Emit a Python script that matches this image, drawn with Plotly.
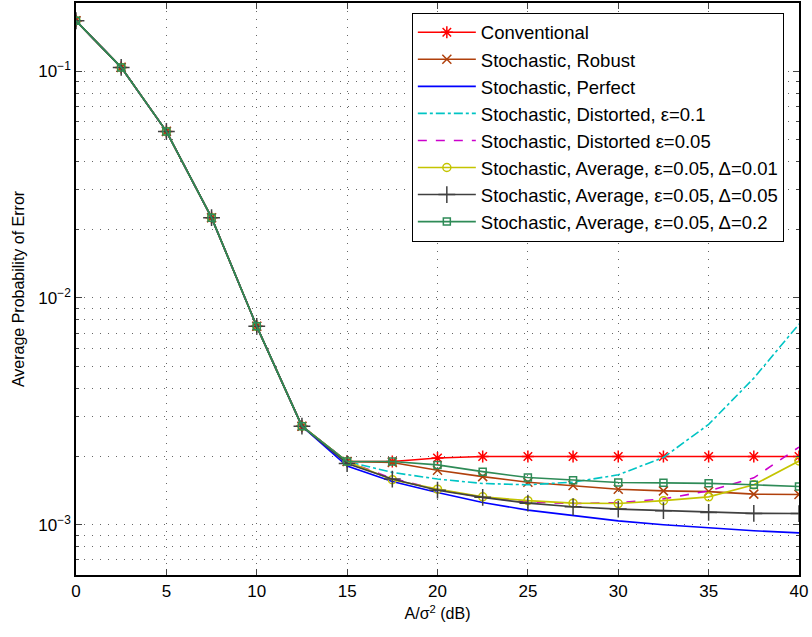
import plotly.graph_objects as go

snr_db = [0, 2.5, 5, 7.5, 10, 12.5, 15, 17.5, 20, 22.5, 25, 27.5, 30, 32.5, 35, 37.5, 40]
head = [0.167, 0.104, 0.0543, 0.0226, 0.0075, 0.00272]

conventional = head + [0.0019, 0.0019, 0.00197, 0.002, 0.002, 0.002, 0.002, 0.002, 0.002, 0.002, 0.002]
robust = head + [0.0019, 0.00188, 0.00174, 0.00163, 0.00154, 0.00149, 0.001434, 0.00141, 0.0014, 0.001364, 0.00136]
perfect = head + [0.001815, 0.00155, 0.001387, 0.001253, 0.00116, 0.0011, 0.00104, 0.001, 0.000967, 0.000941, 0.00092]
distorted_01 = head + [0.0019, 0.0017, 0.00159, 0.00152, 0.0015, 0.00154, 0.00166, 0.00198, 0.00277, 0.00443, 0.00767]
distorted_005 = head + [0.0019, 0.0016, 0.00143, 0.00132, 0.00126, 0.00124, 0.00125, 0.0013, 0.00141, 0.00161, 0.0022]
avg_001 = head + [0.0019, 0.00158, 0.001435, 0.001327, 0.001277, 0.001245, 0.00124, 0.001277, 0.001327, 0.0015, 0.00191]
avg_005 = head + [0.00186, 0.00159, 0.00142, 0.00132, 0.001245, 0.0012, 0.001172, 0.001153, 0.001133, 0.001122, 0.00112]
avg_02 = head + [0.0019, 0.0019, 0.001836, 0.001714, 0.001614, 0.00157, 0.001535, 0.00153, 0.001522, 0.0015, 0.001473]

x_ticks = [0, 5, 10, 15, 20, 25, 30, 35, 40]
y_ticks = [1e-3, 1e-2, 1e-1]
y_ticktext = ["10<sup>\u22123</sup>", "10<sup>\u22122</sup>", "10<sup>\u22121</sup>"]

series = [
    ("Conventional", conventional, "#ff0000", "solid", "asterisk-open", 10, "lines+markers"),
    ("Stochastic, Robust", robust, "#b0400c", "solid", "x-thin-open", 9, "lines+markers"),
    ("Stochastic, Perfect", perfect, "#0000ff", "solid", "circle", 1, "lines"),
    ("Stochastic, Distorted, \u03b5=0.1", distorted_01, "#00c4c4", "dashdot", "circle", 1, "lines"),
    ("Stochastic, Distorted \u03b5=0.05", distorted_005, "#cc00cc", "dash", "circle", 1, "lines"),
    ("Stochastic, Average, \u03b5=0.05, \u0394=0.01", avg_001, "#c4c400", "solid", "circle-open", 8, "lines+markers"),
    ("Stochastic, Average, \u03b5=0.05, \u0394=0.05", avg_005, "#404040", "solid", "cross-thin-open", 12, "lines+markers"),
    ("Stochastic, Average, \u03b5=0.05, \u0394=0.2", avg_02, "#2e8b57", "solid", "square-open", 7, "lines+markers"),
]

fig = go.Figure()
for name, ys, color, dash, sym, size, mode in series:
    fig.add_trace(go.Scatter(
        x=snr_db, y=ys, name=name, mode=mode,
        line=dict(color=color, width=1.6, dash=dash),
        marker=dict(symbol=sym, size=size, color=color, line=dict(color=color, width=1.5)),
    ))

gcol = "#666666"
gdash = "1px,7px"
fig.update_layout(
    width=812, height=637,
    margin=dict(l=76, r=13, t=1, b=62),
    paper_bgcolor="white", plot_bgcolor="white",
    font=dict(family="Liberation Sans, Arial, sans-serif", size=16, color="black"),
    legend=dict(
        x=0.4645, y=0.983, xanchor="left", yanchor="top",
        bgcolor="white", bordercolor="black", borderwidth=1,
        font=dict(size=18.5), tracegroupgap=0, itemwidth=58,
    ),
    xaxis=dict(
        range=[0, 40], tickvals=x_ticks, ticks="inside", ticklen=6,
        showline=True, linecolor="black", linewidth=1.5, mirror="ticks",
        zeroline=False, title=dict(text="A/\u03c3<sup>2</sup> (dB)", font=dict(size=16), standoff=8),
        tickfont=dict(size=17),
        showgrid=True, gridcolor=gcol, griddash=gdash, gridwidth=1,
    ),
    yaxis=dict(
        type="log", range=[-3.2218, -0.699], tickvals=y_ticks, ticktext=y_ticktext,
        ticks="inside", ticklen=6, showline=True, linecolor="black", linewidth=1.5, mirror="ticks",
        zeroline=False, title=dict(text="Average Probability of Error", font=dict(size=16), standoff=10),
        tickfont=dict(size=17),
        showgrid=True, gridcolor=gcol, griddash=gdash, gridwidth=1,
        minor=dict(dtick="D1", ticks="inside", ticklen=3, showgrid=True, gridcolor=gcol, griddash=gdash),
    ),
)
fig.write_html("out.html", config={"displayModeBar": False},
               post_script="document.body.style.margin='0';")
